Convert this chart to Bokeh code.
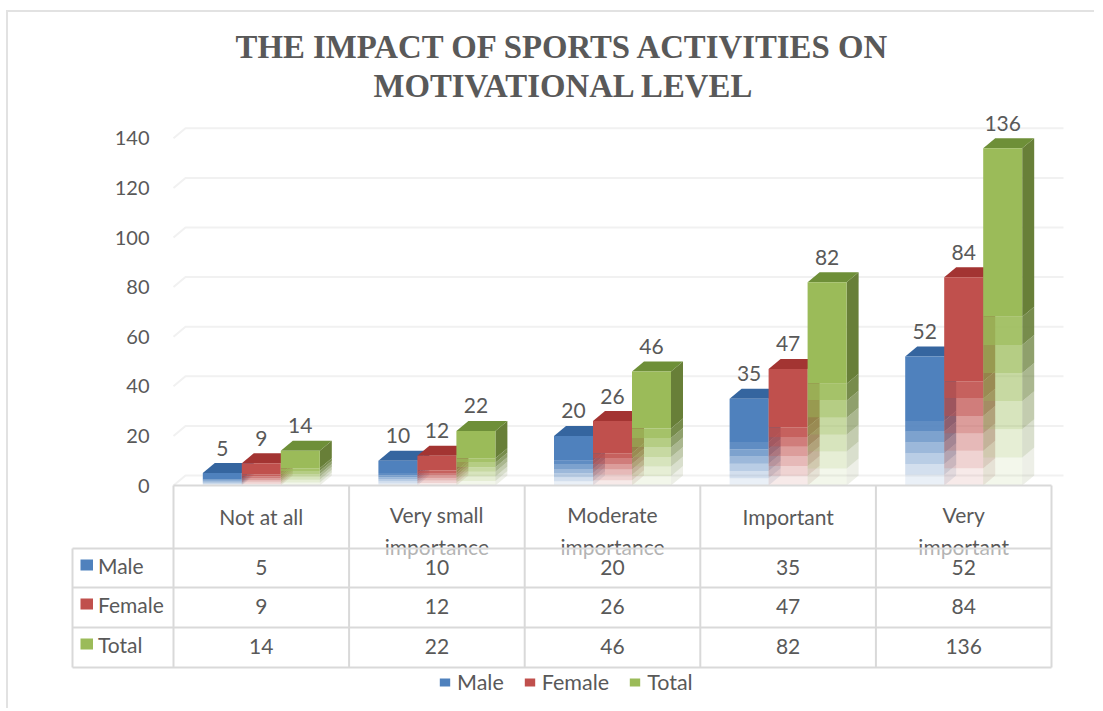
from bokeh.plotting import figure
from bokeh.models import LinearAxis, FixedTicker, Title, Legend, LegendItem, ColumnDataSource, Range1d
from bokeh.core.properties import value
from bokeh.embed import file_html
from bokeh.resources import INLINE

categories = ["Not at all", "Very small\nimportance", "Moderate\nimportance", "Important", "Very\nimportant"]
series_names = ["Male", "Female", "Total"]
male = [5, 10, 20, 35, 52]
female = [9, 12, 26, 47, 84]
total = [14, 22, 46, 82, 136]
y_ticks = [0, 20, 40, 60, 80, 100, 120, 140]
title_lines = ["THE IMPACT OF SPORTS ACTIVITIES ON", "MOTIVATIONAL LEVEL"]

front_cols = ["#4f81bd", "#c0504d", "#9bbb59"]
side_cols = ["#3b6491", "#8e3b39", "#687f38"]
top_cols = ["#35659f", "#a33432", "#6e8f38"]
band_alpha = [0.9, 0.74, 0.56, 0.40, 0.25, 0.12]
TXT = "#595959"
FONT = "Lato"
W, H = 1100, 708
FRAME_TOP = 104
CW = 175.6   # px per category
YS = 2.48    # px per unit
X0, Y0 = 173, 485   # page px of data origin


def xp(px):
    return (px - X0) / CW


def yp(px):
    return (Y0 - px) / YS


p = figure(frame_width=W, frame_height=H - FRAME_TOP, output_backend="svg", toolbar_location=None,
           x_axis_location=None, y_axis_location=None,
           x_range=Range1d(xp(0), xp(W)), y_range=Range1d(yp(H), yp(FRAME_TOP)),
           min_border=0, min_border_top=FRAME_TOP, outline_line_color=None,
           background_fill_color=None, border_fill_color=None)
p.grid.visible = False
# the thin outer chart border, behind the transparent canvas
p.styles = {"background": "linear-gradient(#e2e2e2,#e2e2e2) 6px 10px/1088px 2px no-repeat,"
                          "linear-gradient(#e2e2e2,#e2e2e2) 6px 10px/2px 700px no-repeat"}

DX, DY = 12 / CW, 10 / YS
n = len(categories)
x_left, x_right = 0, n

# grid
gx = [[x_left, x_left + DX, xp(1063)] for _ in y_ticks]
gy = [[t, t + DY, t + DY] for t in y_ticks]
p.multi_line(gx, gy, line_color="#f1f1f1", line_width=2)

# bars
BW = 39 / CW
legend_items = []
for s, vals in enumerate([male, female, total]):
    for i, v in enumerate(vals):
        c = i + 0.5
        l = c + (s - 1.5) * BW
        r = l + BW
        nb = len(band_alpha)
        mid = v * 0.5
        step = mid / nb
        levels = [mid - k * step for k in range(nb + 1)]
        alphas = [1.0] + band_alpha
        # side face
        sx, sy, sa = [[r, r + DX, r + DX, r]], [[mid, mid + DY, v + DY, v]], [1.0]
        for k in range(nb):
            sx.append([r, r + DX, r + DX, r])
            sy.append([levels[k + 1], levels[k + 1] + DY, levels[k] + DY, levels[k]])
            sa.append(band_alpha[k])
        p.patches(xs="xs", ys="ys", fill_alpha="a", fill_color=side_cols[s], line_color=None,
                  source=ColumnDataSource(dict(xs=sx, ys=sy, a=sa)))
        # top face
        p.patch([l, l + DX, r + DX, r], [v, v + DY, v + DY, v], fill_color=top_cols[s], line_color=None)
        # front face
        ql = [l] * (nb + 1)
        qr = [r] * (nb + 1)
        qt = [v] + levels[:-1]
        qb = [mid] + levels[1:]
        rr = p.quad(left="l", right="r", top="t", bottom="b", fill_alpha="a", fill_color=front_cols[s],
                    line_color=None, source=ColumnDataSource(dict(l=ql, r=qr, t=qt, b=qb, a=alphas)))
        if i == 0:
            legend_items.append(LegendItem(label=series_names[s], renderers=[rr]))

# data labels
lx, ly, lt = [], [], []
for s, vals in enumerate([male, female, total]):
    for i, v in enumerate(vals):
        lx.append(i + 0.5 + (s - 1) * BW)
        ly.append(v + 25 / YS)
        lt.append(str(v))
p.text(lx, ly, text=lt, text_align="center", text_baseline="middle", text_color=TXT,
       text_font=value(FONT), text_font_size="21px")

# category cells
p.text([i + 0.5 for i in range(n)], [yp(530) if "\n" in c else yp(516) for c in categories], text=categories,
       text_align="center", text_baseline="middle",
       text_color=TXT, text_font=value(FONT), text_font_size="21px", text_line_height=1.3)

# rows half cover the overflowing second line of the category labels
rows = [548, 587, 627, 667]
p.quad(left=[xp(72)], right=[x_right], top=[yp(548)], bottom=[yp(667)], fill_color="white", fill_alpha=0.55,
       line_color=None)

line_col = "#d9d9d9"
xs = [[i, i] for i in range(n + 1)] + [[xp(72), xp(72)]]
ys = [[0, yp(667)] for _ in range(n + 1)] + [[yp(548), yp(667)]]
xs += [[x_left, x_right]] + [[xp(72), x_right] for _ in rows]
ys += [[0, 0]] + [[yp(r), yp(r)] for r in rows]
p.multi_line(xs, ys, line_color=line_col, line_width=2)

# data table
for r, (name, vals) in enumerate(zip(series_names, [male, female, total])):
    yc = yp(rows[r] + 19)
    p.text([i + 0.5 for i in range(n)], [yc] * n, text=[str(v) for v in vals], text_align="center",
           text_baseline="middle", text_color=TXT, text_font=value(FONT), text_font_size="21px")
    p.quad(left=[xp(80)], right=[xp(92.5)], top=[yp(rows[r] + 11)], bottom=[yp(rows[r] + 22)],
           fill_color=front_cols[r], line_color=None)
    p.text([xp(97.5)], [yp(rows[r] + 17)], text=[name], text_align="left", text_baseline="middle",
           text_color=TXT, text_font=value(FONT), text_font_size="21px")

# y axis
ax = LinearAxis(fixed_location=xp(155), ticker=FixedTicker(ticks=y_ticks), axis_line_color=None,
                major_tick_line_color=None, minor_tick_line_color=None, major_label_standoff=0,
                major_label_text_font=FONT, major_label_text_font_size="20px", major_label_text_color=TXT)
p.add_layout(ax, "left")

# legend
leg = Legend(items=legend_items, orientation="horizontal", location=(438, 13), background_fill_alpha=0,
             border_line_color=None, glyph_width=13, glyph_height=10, label_text_font=FONT,
             label_text_font_size="21.5px", label_text_color=TXT, spacing=19, padding=0, margin=0,
             label_standoff=6)
p.add_layout(leg, "center")

# title: one Title per line, the second line sits next to the frame
for line, off, stand in zip(reversed(title_lines), [373, 235], [2, 0]):
    p.add_layout(Title(text=line, align="left", offset=off, text_font="Liberation Serif", text_font_style="bold",
                       text_font_size="32.8px", text_color=TXT, standoff=stand), "above")

open("out.html", "w").write(file_html(p, INLINE))
